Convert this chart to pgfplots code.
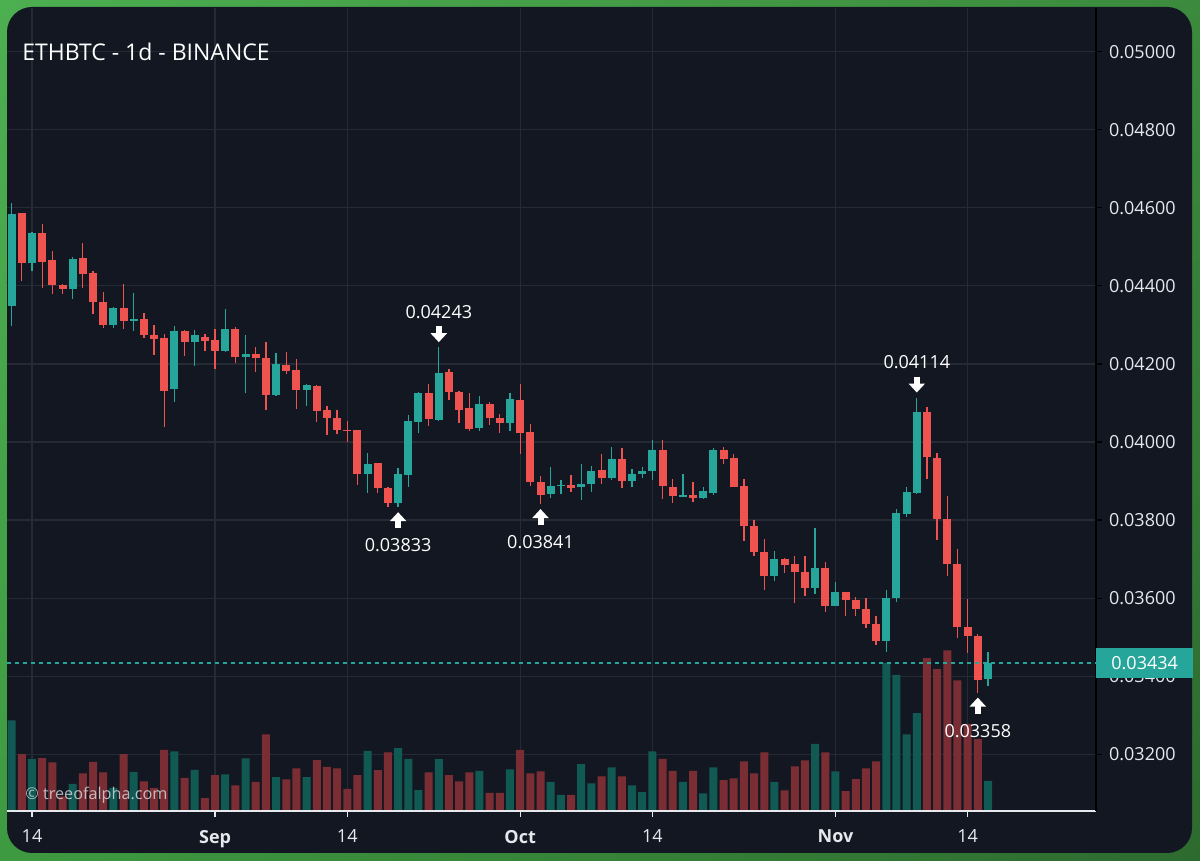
\documentclass[border=0pt]{standalone}
\usepackage{pgfplots}
\pgfplotsset{compat=1.18}
\usepackage{pgfplotstable}
\usepackage{fontspec}
\setmainfont{Open Sans}
\usetikzlibrary{arrows.meta,shadings}

\definecolor{bg}{HTML}{131722}
\definecolor{up}{HTML}{26A69A}
\definecolor{dn}{HTML}{EF5350}
\definecolor{vup}{HTML}{115A53}
\definecolor{vdn}{HTML}{7A2E34}
\definecolor{gridc}{HTML}{262A35}
\definecolor{txt}{HTML}{E6E8EE}
\definecolor{gTL}{HTML}{4CAF50}
\definecolor{gTR}{HTML}{3C8A3E}
\definecolor{gBL}{HTML}{3E9A41}
\definecolor{gBR}{HTML}{2D6A2F}

% day 0 = Aug 14 ; o h l c = open high low close ; v = volume (arbitrary units)
\pgfplotstableread{
d o h l c v
-2 0.04349 0.04612 0.04298 0.04584 90.5
0 0.04458 0.04537 0.04438 0.04535 51.8
4 0.04393 0.04475 0.04367 0.04469 27.2
8 0.04300 0.04346 0.04293 0.04344 23.2
10 0.04310 0.04381 0.04285 0.04315 39.2
14 0.04135 0.04296 0.04103 0.04285 59.5
16 0.04256 0.04287 0.04196 0.04273 41.2
19 0.04232 0.04340 0.04231 0.04290 36.5
21 0.04217 0.04273 0.04126 0.04225 52.5
24 0.04121 0.04227 0.04118 0.04199 33.8
27 0.04134 0.04149 0.04092 0.04145 33.8
33 0.03917 0.03973 0.03869 0.03943 60.2
36 0.03843 0.03933 0.03833 0.03917 62.8
37 0.03916 0.04069 0.03886 0.04054 52.2
38 0.04052 0.04129 0.04024 0.04125 20.8
40 0.04057 0.04243 0.04055 0.04178 51.8
44 0.04035 0.04118 0.04027 0.04098 40.2
47 0.04050 0.04125 0.04027 0.04110 41.5
51 0.03866 0.03935 0.03857 0.03888 29.2
52 0.03887 0.03903 0.03867 0.03890 16.2
54 0.03884 0.03943 0.03852 0.03893 46.8
55 0.03892 0.03939 0.03873 0.03927 27.5
57 0.03907 0.03987 0.03903 0.03956 43.5
59 0.03900 0.03931 0.03884 0.03918 25.5
60 0.03918 0.03937 0.03907 0.03926 18.8
61 0.03927 0.04005 0.03903 0.03980 59.5
64 0.03860 0.03919 0.03859 0.03864 29.2
66 0.03856 0.03886 0.03854 0.03874 17.5
67 0.03870 0.03984 0.03864 0.03980 43.5
73 0.03657 0.03722 0.03645 0.03700 29.2
77 0.03627 0.03779 0.03610 0.03676 67.2
79 0.03581 0.03641 0.03580 0.03615 39.5
84 0.03489 0.03621 0.03463 0.03601 148.2
85 0.03600 0.03828 0.03589 0.03817 136.2
86 0.03815 0.03884 0.03809 0.03871 76.5
87 0.03869 0.04114 0.03868 0.04076 97.8
94 0.03392 0.03463 0.03376 0.03434 30.2
}\upT

\pgfplotstableread{
d o h l c v
-1 0.04586 0.04588 0.04413 0.04458 56.8
1 0.04535 0.04558 0.04395 0.04462 52.8
2 0.04466 0.04490 0.04379 0.04402 48.5
3 0.04403 0.04405 0.04379 0.04393 14.5
5 0.04471 0.04509 0.04395 0.04431 37.5
6 0.04434 0.04438 0.04327 0.04358 49.2
7 0.04360 0.04384 0.04291 0.04300 38.5
9 0.04344 0.04404 0.04289 0.04310 56.8
11 0.04315 0.04331 0.04266 0.04273 29.5
12 0.04274 0.04299 0.04223 0.04264 22.8
13 0.04266 0.04276 0.04039 0.04132 61.2
15 0.04284 0.04287 0.04221 0.04256 33.2
17 0.04270 0.04277 0.04232 0.04260 12.8
18 0.04261 0.04289 0.04187 0.04232 35.8
20 0.04290 0.04294 0.04202 0.04217 25.5
22 0.04225 0.04244 0.04179 0.04215 29.2
23 0.04216 0.04257 0.04082 0.04121 76.5
25 0.04197 0.04230 0.04174 0.04183 31.5
26 0.04184 0.04213 0.04084 0.04133 42.5
28 0.04144 0.04147 0.04052 0.04080 50.8
29 0.04082 0.04092 0.04018 0.04061 44.2
30 0.04062 0.04082 0.04021 0.04031 42.5
31 0.04032 0.04055 0.04001 0.04030 22.2
32 0.04031 0.04032 0.03890 0.03917 35.8
34 0.03945 0.03946 0.03869 0.03882 40.8
35 0.03882 0.03884 0.03834 0.03843 58.5
39 0.04125 0.04149 0.04042 0.04058 38.5
41 0.04180 0.04187 0.04108 0.04127 35.8
42 0.04129 0.04131 0.04050 0.04082 29.5
43 0.04086 0.04125 0.04029 0.04033 38.5
45 0.04098 0.04103 0.04044 0.04061 18.2
46 0.04062 0.04071 0.04024 0.04050 18.2
48 0.04108 0.04149 0.03969 0.04024 61.2
49 0.04026 0.04046 0.03888 0.03897 37.5
50 0.03898 0.03913 0.03841 0.03864 39.5
53 0.03890 0.03916 0.03873 0.03882 16.2
56 0.03928 0.03969 0.03892 0.03909 34.5
58 0.03956 0.03984 0.03882 0.03900 34.5
62 0.03980 0.04005 0.03853 0.03887 52.2
63 0.03886 0.03905 0.03845 0.03862 40.2
65 0.03864 0.03898 0.03846 0.03857 40.2
68 0.03980 0.03987 0.03943 0.03956 30.8
69 0.03958 0.03969 0.03885 0.03886 32.5
70 0.03888 0.03905 0.03747 0.03785 49.5
71 0.03786 0.03800 0.03708 0.03717 37.5
72 0.03717 0.03752 0.03621 0.03658 58.5
74 0.03700 0.03703 0.03664 0.03685 20.5
75 0.03687 0.03708 0.03588 0.03666 44.5
76 0.03667 0.03708 0.03606 0.03627 50.5
78 0.03676 0.03692 0.03565 0.03581 58.5
80 0.03615 0.03617 0.03555 0.03595 19.8
81 0.03595 0.03604 0.03555 0.03572 31.8
82 0.03573 0.03600 0.03523 0.03533 42.5
83 0.03534 0.03554 0.03480 0.03489 49.5
88 0.04076 0.04089 0.03905 0.03961 152.8
89 0.03960 0.03971 0.03749 0.03803 141.8
90 0.03803 0.03862 0.03657 0.03688 160.5
91 0.03688 0.03726 0.03497 0.03525 130.5
92 0.03525 0.03598 0.03460 0.03503 87.2
93 0.03504 0.03507 0.03358 0.03390 72.2
}\dnT

\pgfplotsset{
  base/.style={
    at={(3.5pt,25pt)}, anchor=south west, scale only axis,
    width=544.5pt, height=401.5pt,
    xmin=-2.458, xmax=104.62,
  },
  price/.style={base, ymin=0.030547, ymax=0.05112,
    xtick={0,18,31,48,61,79,92},
    ytick={0.032,0.034,0.036,0.038,0.040,0.042,0.044,0.046,0.048,0.050}},
  candle/.style 2 args={only marks, mark=none, mark size=0pt, mark options={draw=none, fill=none},
    error bars/.cd, y dir=plus, y explicit, error mark=none,
    error bar style={draw=#1, line width=#2}},
}

\begin{document}
\begin{tikzpicture}
\useasboundingbox (0,0) rectangle (600pt,430.5pt);
\shade[upper left=gTL, upper right=gTR, lower left=gBL, lower right=gBR] (0,0) rectangle (600pt,430.5pt);
\fill[bg, rounded corners=12.5pt] (3.5pt,4pt) rectangle (596pt,427pt);

% grid
\begin{axis}[price, grid=major, major grid style={draw=gridc, line width=0.6pt},
  axis line style={draw=none}, tick style={draw=none},
  xticklabels={}, yticklabels={}]
\end{axis}

% volume
\begin{axis}[base, ymin=0, ymax=803, hide axis]
\addplot[ybar, bar width=4pt, bar shift=0pt, fill=vup, draw=none] table[x=d, y=v] {\upT};
\addplot[ybar, bar width=4pt, bar shift=0pt, fill=vdn, draw=none] table[x=d, y=v] {\dnT};
\end{axis}

% price
\begin{axis}[price, clip=false,
  axis x line*=bottom, axis y line*=right,
  x axis line style={draw=txt, line width=1pt},
  y axis line style={draw=black, line width=0.9pt},
  xtick style={draw=txt, line width=0.6pt},
  ytick style={draw=black, line width=0.6pt},
  tick align=outside, major tick length=3pt,
  xticklabels={14,\textbf{Sep},14,\textbf{Oct},14,\textbf{Nov},14},
  scaled y ticks=false,
  /pgf/number format/assume math mode=true,
  yticklabel style={/pgf/number format/fixed, /pgf/number format/fixed zerofill,
    /pgf/number format/precision=5},
  ticklabel style={font=\fontsize{9}{11}\selectfont, text=txt},
  xticklabel style={yshift=-3pt},
]
% wicks
\addplot[candle={up}{0.65pt}]
  table[x=d, y=l, y error plus expr=\thisrow{h}-\thisrow{l}] {\upT};
\addplot[candle={dn}{0.65pt}]
  table[x=d, y=l, y error plus expr=\thisrow{h}-\thisrow{l}] {\dnT};
% bodies
\addplot[candle={up}{4pt}]
  table[x=d, y=o, y error plus expr=\thisrow{c}-\thisrow{o}] {\upT};
\addplot[candle={dn}{4pt}]
  table[x=d, y=c, y error plus expr=\thisrow{o}-\thisrow{c}] {\dnT};
% last price line
\addplot[up, line width=0.6pt, dash pattern=on 2pt off 2pt] coordinates {(-2.458,0.03434) (104.62,0.03434)};
\coordinate (lastp) at (axis cs:104.62,0.03434);
% annotations
\coordinate (hA) at (axis cs:40,0.04243);
\coordinate (hB) at (axis cs:87,0.04114);
\coordinate (lA) at (axis cs:36,0.03833);
\coordinate (lB) at (axis cs:50,0.03841);
\coordinate (lC) at (axis cs:93,0.03358);
\end{axis}

\tikzset{annot/.style={text=white, font=\fontsize{9}{11}\selectfont, inner sep=0pt},
  arr/.style={white, line width=3pt, -{Triangle[width=8pt,length=4.5pt]}}}
\foreach \p/\t in {hA/0.04243, hB/0.04114}{
  \draw[arr] ([yshift=10.5pt]\p) -- ([yshift=2.5pt]\p);
  \node[annot] at ([yshift=17.5pt]\p) {\t};
}
\foreach \p/\t in {lA/0.03833, lB/0.03841, lC/0.03358}{
  \draw[arr] ([yshift=-10.5pt]\p) -- ([yshift=-2.5pt]\p);
  \node[annot] at ([yshift=-19pt]\p) {\t};
}

% last price label
\fill[up] ([yshift=-7.5pt]lastp) rectangle ([xshift=48.5pt, yshift=7.5pt]lastp);
\node[anchor=west, text=white, font=\fontsize{9}{11}\selectfont, inner sep=0pt] at ([xshift=7.5pt]lastp) {0.03434};

% title and watermark
\node[anchor=west, text=white, font=\fontsize{11.5}{14}\selectfont, inner sep=0pt] at (11pt,404.5pt) {ETHBTC - 1d - BINANCE};
\node[anchor=west, text=txt, opacity=0.75, font=\fontsize{8.1}{10}\selectfont, inner sep=0pt] at (12.5pt,33pt) {© treeofalpha.com};
\end{tikzpicture}
\end{document}
